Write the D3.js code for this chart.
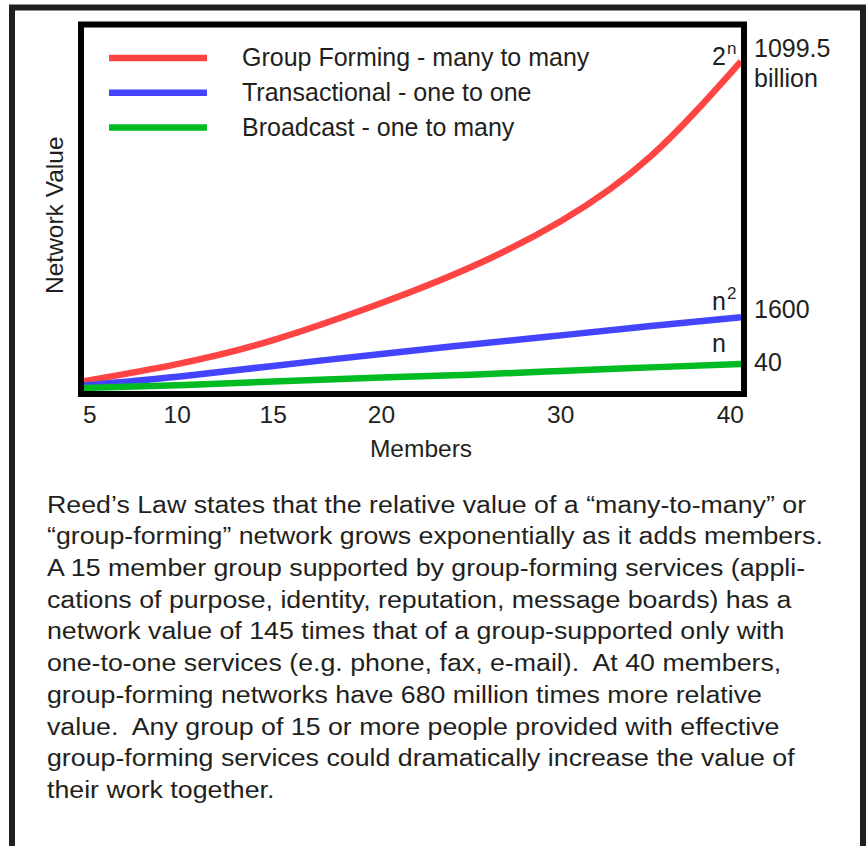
<!DOCTYPE html>
<html>
<head>
<meta charset="utf-8">
<script src="https://cdn.jsdelivr.net/npm/d3@7"></script>
<style>
  html, body { margin: 0; padding: 0; background: #ffffff; }
  svg { display: block; }
  text { font-family: "Liberation Sans", Arial, Helvetica, sans-serif; fill: #231f20; white-space: pre; }
</style>
</head>
<body>
<div id="chart"></div>
<script>
// ---------------- DATA ----------------
const members = [5, 10, 15, 20, 25, 30, 35, 40];
// schematic relative heights (0-100 of plot height)
const groupForming = [2.7, 7.4, 14.0, 24.2, 34.1, 46.7, 64.6, 90.7];
const transactional = [1.5, 3.9, 6.9, 10.2, 12.8, 15.3, 17.9, 20.3];
const broadcast = [0.8, 1.6, 2.6, 3.7, 4.5, 5.5, 6.5, 7.4];

const seriesNames = ["Group Forming - many to many", "Transactional - one to one", "Broadcast - one to many"];
const formulaBase = ["2", "n", "n"];
const formulaSup = ["n", "2", ""];
const endLabels = [["1099.5", "billion"], ["1600"], ["40"]];

const tickMembers = [5, 10, 15, 20, 30, 40];
const tickLabels = ["5", "10", "15", "20", "30", "40"];
const xTitle = "Members";
const yTitle = "Network Value";

const paragraph = [
  "Reed\u2019s Law states that the relative value of a \u201cmany-to-many\u201d or",
  "\u201cgroup-forming\u201d network grows exponentially as it adds members.",
  "A 15 member group supported by group-forming services (appli-",
  "cations of purpose, identity, reputation, message boards) has a",
  "network value of 145 times that of a group-supported only with",
  "one-to-one services (e.g. phone, fax, e-mail).  At 40 members,",
  "group-forming networks have 680 million times more relative",
  "value.  Any group of 15 or more people provided with effective",
  "group-forming services could dramatically increase the value of",
  "their work together."
];

// ---------------- LAYOUT ----------------
const W = 866, H = 846;
const colors = ["#ff4444", "#4444ff", "#00bb22"];
const ink = "#231f20";
const plot = { left: 84, right: 741, top: 27.5, bottom: 391 };
const tickFrac = [0, 0.1418, 0.288, 0.4527, 0.7256, 1];

const svg = d3.select("#chart").append("svg")
  .attr("width", W).attr("height", H)
  .attr("viewBox", `0 0 ${W} ${H}`);

svg.append("rect").attr("width", W).attr("height", H).attr("fill", "#fff");

// outer frame
svg.append("rect")
  .attr("x", 12).attr("y", 7.5)
  .attr("width", 851).attr("height", 900)
  .attr("fill", "none").attr("stroke", ink).attr("stroke-width", 6);

const pw = plot.right - plot.left;
const x = d3.scaleLinear()
  .domain(tickMembers)
  .range(tickFrac.map(f => plot.left + f * pw));
const y = d3.scaleLinear().domain([0, 100]).range([plot.bottom, plot.top]);

const series = [groupForming, transactional, broadcast];
const line = d3.line()
  .x(d => x(d[0]))
  .y(d => y(d[1]))
  .curve(d3.curveNatural);

svg.append("g").selectAll("path")
  .data(series)
  .join("path")
  .attr("d", vals => line(members.map((m, i) => [m, vals[i]])))
  .attr("fill", "none")
  .attr("stroke", (d, i) => colors[i])
  .attr("stroke-width", 6.5);

// plot box
svg.append("rect")
  .attr("x", plot.left - 3).attr("y", plot.top - 3)
  .attr("width", pw + 6).attr("height", plot.bottom - plot.top + 6)
  .attr("fill", "none").attr("stroke", "#000").attr("stroke-width", 6);

// legend
const leg = svg.append("g");
seriesNames.forEach((name, i) => {
  const cy = 58 + i * 34.8;
  leg.append("line")
    .attr("x1", 109).attr("x2", 207)
    .attr("y1", cy).attr("y2", cy)
    .attr("stroke", colors[i]).attr("stroke-width", 6.5);
  leg.append("text")
    .attr("x", 242).attr("y", cy + 8.3)
    .attr("font-size", 25)
    .text(name);
});

// x ticks
const xAxis = svg.append("g").attr("transform", `translate(0,${plot.bottom + 32})`);
tickMembers.forEach((m, i) => {
  const anchor = i === 0 ? "start" : (i === tickMembers.length - 1 ? "end" : "middle");
  xAxis.append("text")
    .attr("x", x(m) + (i === tickMembers.length - 1 ? 3 : (i === 0 ? -1 : 0)))
    .attr("y", 0)
    .attr("text-anchor", anchor)
    .attr("font-size", 24.5)
    .text(tickLabels[i]);
});

svg.append("text")
  .attr("x", 421).attr("y", 457)
  .attr("text-anchor", "middle")
  .attr("font-size", 24.5)
  .text(xTitle);

svg.append("text")
  .attr("transform", `translate(63,${(plot.top + plot.bottom) / 2 + 6}) rotate(-90)`)
  .attr("text-anchor", "middle")
  .attr("font-size", 24.5)
  .text(yTitle);

// formula labels and end values
series.forEach((vals, i) => {
  const fy = [65, 310, 352][i];
  const t = svg.append("text")
    .attr("x", plot.right - 29).attr("y", fy)
    .attr("font-size", 25);
  t.append("tspan").text(formulaBase[i]);
  if (formulaSup[i]) {
    t.append("tspan").attr("font-size", 17).attr("dy", -11).attr("dx", 1).text(formulaSup[i]);
  }
  const ly = [57, 318, 371][i];
  endLabels[i].forEach((s, k) => {
    svg.append("text")
      .attr("x", plot.right + 13).attr("y", ly + k * 30)
      .attr("font-size", 25)
      .text(s);
  });
});

// paragraph (type in the source is set slightly wide)
const para = svg.append("g").attr("transform", "translate(47,0) scale(1.092,1)");
paragraph.forEach((s, i) => {
  para.append("text")
    .attr("x", 0).attr("y", 512.7 + i * 31.7)
    .attr("font-size", 24.5)
    .text(s);
});
</script>
</body>
</html>
